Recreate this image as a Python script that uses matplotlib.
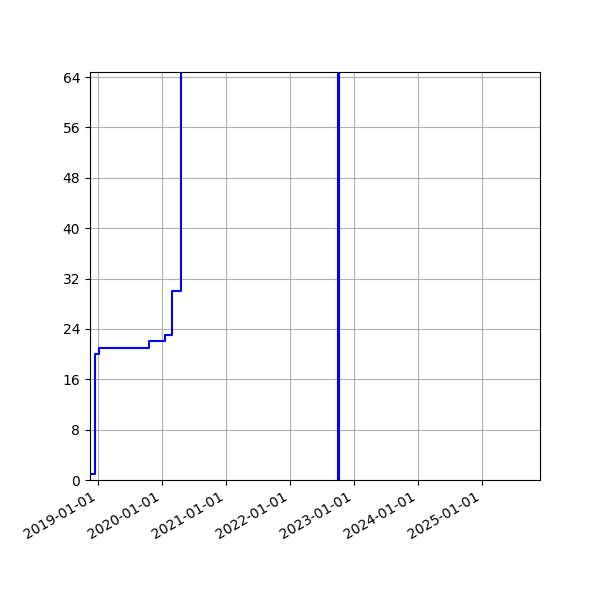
import matplotlib
matplotlib.use("Agg")
import matplotlib.pyplot as plt
import matplotlib.dates as mdates
import numpy as np

dates = ['2018-11-16', '2018-12-15', '2019-01-04', '2019-10-20', '2020-01-17',
         '2020-02-26', '2020-04-21', '2022-10-01', '2022-10-09']
values = [1, 20, 21, 22, 23, 30, 5000, -5000, 5000]
y_ticks = [0, 8, 16, 24, 32, 40, 48, 56, 64]

x = np.array(dates, dtype='datetime64[D]')

fig = plt.figure(figsize=(6, 6), dpi=100)
ax = fig.add_axes([0.15, 0.2, 0.75, 0.68])
ax.step(x, values, where='post', color='blue', linewidth=1.5)
ax.set_xlim(np.datetime64('2018-11-16'), np.datetime64('2025-12-01'))
ax.set_ylim(0, 64.8)
ax.set_yticks(y_ticks)
ax.xaxis.set_major_locator(mdates.YearLocator())
ax.xaxis.set_major_formatter(mdates.DateFormatter('%Y-%m-%d'))
ax.grid(True)
for lbl in ax.get_xticklabels():
    lbl.set_rotation(30)
    lbl.set_ha('right')
fig.savefig('out.png', dpi=100)
